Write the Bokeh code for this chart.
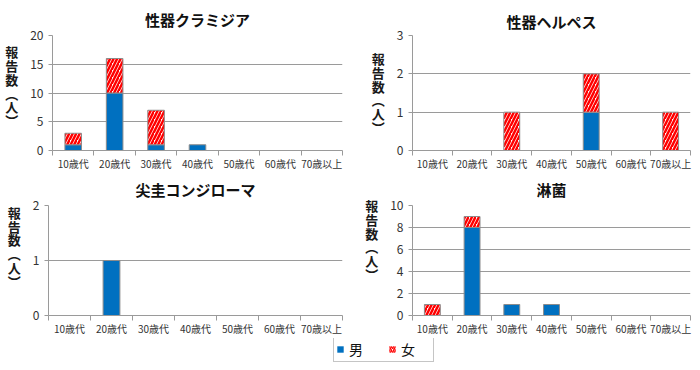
from bokeh.plotting import figure
from bokeh.layouts import column, row
from bokeh.models import FixedTicker, Legend, LegendItem, ColumnDataSource, Range1d
from bokeh.embed import file_html
from bokeh.resources import INLINE

ages = ["10歳代", "20歳代", "30歳代", "40歳代", "50歳代", "60歳代", "70歳以上"]

chlamydia_male = [1, 10, 1, 1, 0, 0, 0]
chlamydia_female = [2, 6, 6, 0, 0, 0, 0]
herpes_male = [0, 0, 0, 0, 1, 0, 0]
herpes_female = [0, 0, 1, 0, 1, 0, 1]
condyloma_male = [0, 1, 0, 0, 0, 0, 0]
condyloma_female = [0, 0, 0, 0, 0, 0, 0]
gonorrhea_male = [0, 8, 1, 1, 0, 0, 0]
gonorrhea_female = [1, 1, 0, 0, 0, 0, 0]

FONT = "Noto Sans CJK JP"
BLUE = "#0070C0"
RED = "#FF0000"
GRID = "#9a9a9a"
YLABEL = "報\n告\n数\n︵\n人\n︶"


def make_chart(title, male, female, ymax, ystep, width, height, bl, br, bt, bb, lift, tstand):
    p = figure(width=width, height=height, x_range=Range1d(-0.5, len(ages) - 0.5),
               y_range=Range1d(0, ymax), output_backend="svg", toolbar_location=None,
               min_border_left=bl, min_border_right=br, min_border_top=bt, min_border_bottom=bb)
    p.title.text = title
    p.title.align = "center"
    p.title.vertical_align = "top"
    p.title.text_font = FONT
    p.title.text_font_size = "15px"
    p.title.text_font_style = "bold"
    p.title.text_color = "#111111"
    p.title.text_line_height = 0.8
    p.title.standoff = tstand
    p.outline_line_color = None
    p.background_fill_color = "white"
    p.border_fill_color = "white"

    idx = list(range(len(ages)))
    ms = ColumnDataSource(dict(x=[i for i in idx if male[i] > 0],
                               top=[male[i] for i in idx if male[i] > 0]))
    fs = ColumnDataSource(dict(x=[i for i in idx if female[i] > 0],
                               bottom=[male[i] for i in idx if female[i] > 0],
                               top=[male[i] + female[i] for i in idx if female[i] > 0]))
    p.vbar(x="x", top="top", bottom=0, width=0.4, source=ms,
           fill_color=BLUE, line_color="#8c8c8c", line_width=1)
    p.vbar(x="x", top="top", bottom="bottom", width=0.4, source=fs,
           fill_color="white", hatch_pattern="/", hatch_color=RED, hatch_weight=2.5,
           hatch_scale=7, line_color="#8c8c8c", line_width=1)

    # x axis
    xa = p.xaxis[0]
    xa.ticker = FixedTicker(ticks=idx, minor_ticks=[i - 0.5 for i in range(len(ages) + 1)])
    xa.major_label_overrides = {i: a for i, a in zip(idx, ages)}
    xa.major_tick_line_color = None
    xa.major_tick_out = 0
    xa.major_tick_in = 0
    xa.minor_tick_out = 5
    xa.minor_tick_in = 0
    xa.minor_tick_line_color = GRID
    xa.axis_line_color = GRID
    xa.major_label_text_font = FONT
    xa.major_label_text_font_size = "10px"
    xa.major_label_text_color = "#333333"
    xa.major_label_text_line_height = 1.0
    xa.major_label_standoff = 0
    xa.axis_label = None
    p.xgrid.visible = False

    # y axis
    ya = p.yaxis[0]
    ya.ticker = FixedTicker(ticks=list(range(0, ymax + 1, ystep)), minor_ticks=[])
    ya.major_tick_out = 4
    ya.major_tick_in = 0
    ya.major_tick_line_color = GRID
    ya.minor_tick_line_color = None
    ya.axis_line_color = GRID
    ya.major_label_text_font = FONT
    ya.major_label_text_font_size = "12px"
    ya.major_label_text_color = "#333333"
    ya.major_label_standoff = 5
    ya.axis_label = YLABEL + "\n" * lift
    ya.axis_label_orientation = "horizontal"
    ya.axis_label_text_font = FONT
    ya.axis_label_text_font_size = "13px"
    ya.axis_label_text_font_style = "bold"
    ya.axis_label_text_color = "#1a1a1a"
    ya.axis_label_text_line_height = 0.72
    ya.axis_label_standoff = 9
    p.ygrid.grid_line_color = GRID
    p.ygrid.grid_line_width = 1
    return p


p1 = make_chart("性器クラミジア", chlamydia_male, chlamydia_female, 20, 5, 350, 175, 52, 8, 33, 25, 1, 7)
p2 = make_chart("性器ヘルペス", herpes_male, herpes_female, 3, 1, 350, 175, 62, 10, 35, 22, 0, 4)
p3 = make_chart("尖圭コンジローマ", condyloma_male, condyloma_female, 2, 1, 350, 163, 48, 8, 28, 21, 2, 7)
p4 = make_chart("淋菌", gonorrhea_male, gonorrhea_female, 10, 2, 350, 163, 62, 10, 28, 21, 3, 7)

lf = figure(width=700, height=32, x_range=Range1d(0, 1), y_range=Range1d(0, 1),
            output_backend="svg", toolbar_location=None, x_axis_location=None,
            y_axis_location=None, min_border=0)
lf.outline_line_color = None
lf.xgrid.visible = False
lf.ygrid.visible = False
lf.border_fill_color = "white"
lf.background_fill_color = "white"
r1 = lf.vbar(x=[0.5], top=[0], bottom=[0], width=0.01, fill_color=BLUE, line_color=None)
r2 = lf.vbar(x=[0.5], top=[0], bottom=[0], width=0.01, fill_color="white", hatch_pattern="/",
             hatch_color=RED, hatch_weight=1.5, hatch_scale=4, line_color=None)
legend = Legend(items=[LegendItem(label="男", renderers=[r1]),
                       LegendItem(label="女", renderers=[r2])],
                orientation="horizontal", location=(333, 8))
legend.label_text_font = FONT
legend.label_text_font_size = "14px"
legend.label_text_color = "#111111"
legend.label_text_line_height = 0.9
legend.glyph_width = 8
legend.glyph_height = 8
legend.label_width = 30
legend.label_height = 12
legend.label_standoff = 5
legend.spacing = 9
legend.padding = 2
legend.margin = 0
legend.border_line_color = "#8c8c8c"
legend.border_line_width = 1
legend.background_fill_color = "white"
legend.background_fill_alpha = 1
lf.add_layout(legend, "center")

layout = column(row(p1, p2), row(p3, p4), lf)
open("out.html", "w").write(file_html(layout, INLINE))
